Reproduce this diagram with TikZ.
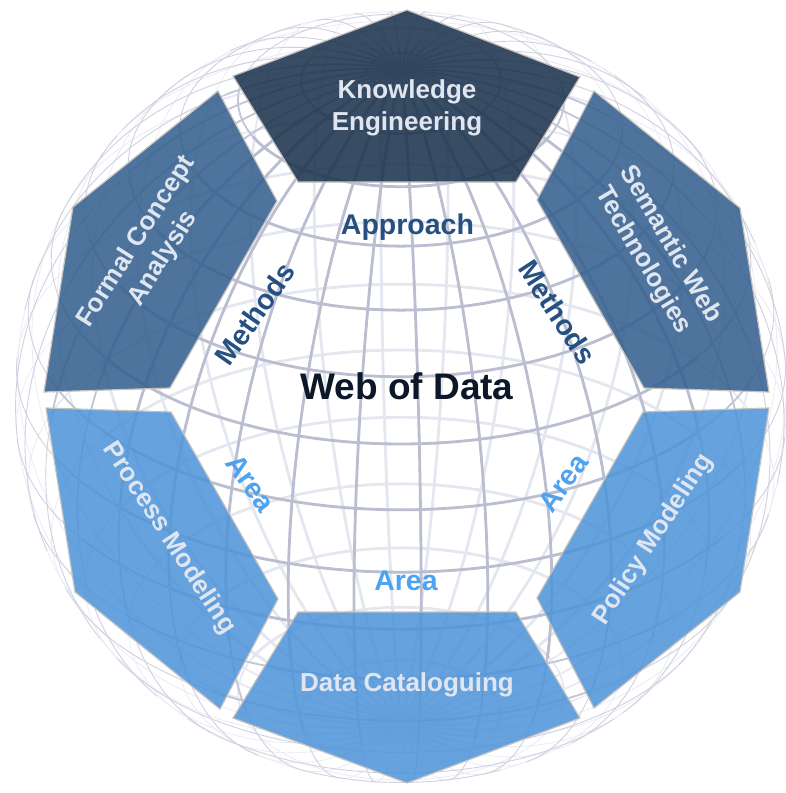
\documentclass[tikz,border=0pt]{standalone}
\usepackage{fontspec}
\setmainfont{Liberation Sans}
\definecolor{frontline}{RGB}{186,190,208}
\definecolor{backline}{RGB}{229,231,240}
\definecolor{pdark}{RGB}{29,52,78}
\definecolor{pmid}{RGB}{54,96,142}
\definecolor{plight}{RGB}{80,149,217}
\definecolor{ptext}{RGB}{224,230,240}
\definecolor{methodc}{RGB}{38,80,128}
\definecolor{areac}{RGB}{78,163,240}
\definecolor{titlec}{RGB}{12,24,40}
\definecolor{panelborder}{RGB}{196,194,192}
\def\gcx{401}
\def\gcy{397}
\def\gR{386}
\def\gtv{32}
\newcommand\gridlines[1]{%
 \foreach \k in {0,...,35}{%
   \pgfmathsetmacro\lam{3+10*\k}%
   \pgfmathsetmacro\ps{atan(-cot(\gtv)*cos(\lam))}%
   \ifnum#1=1
     \draw plot[domain=\ps:90,samples=40,variable=\t]({\gcx+\gR*cos(\t)*sin(\lam)},{\gcy-\gR*(sin(\t)*cos(\gtv)-cos(\t)*sin(\gtv)*cos(\lam))});%
   \else
     \draw plot[domain=-90:\ps,samples=40,variable=\t]({\gcx+\gR*cos(\t)*sin(\lam)},{\gcy-\gR*(sin(\t)*cos(\gtv)-cos(\t)*sin(\gtv)*cos(\lam))});%
   \fi
 }%
 \foreach \p in {-85,-75,...,85}{%
   \pgfmathsetmacro\cc{-tan(\p)*tan(\gtv)}%
   \pgfmathsetmacro\aa{acos(max(-1,min(1,\cc)))}%
   \pgfmathsetmacro\bb{360-\aa}%
   \pgfmathsetmacro\na{-\aa}%
   \ifnum#1=1
     \ifdim\aa pt>0.5pt
       \draw plot[domain=\na:\aa,samples=73,variable=\t]({\gcx+\gR*cos(\p)*sin(\t)},{\gcy-\gR*(sin(\p)*cos(\gtv)-cos(\p)*sin(\gtv)*cos(\t))});%
     \fi
   \else
     \ifdim\aa pt<179.5pt
       \draw plot[domain=\aa:\bb,samples=73,variable=\t]({\gcx+\gR*cos(\p)*sin(\t)},{\gcy-\gR*(sin(\p)*cos(\gtv)-cos(\p)*sin(\gtv)*cos(\t))});%
     \fi
   \fi
 }}
\tikzset{
 paneltext/.style={text=ptext, font=\fontsize{26}{31.5}\selectfont\bfseries, align=center, inner sep=0pt},
 lbl/.style={font=\fontsize{28.5}{30}\selectfont\bfseries, inner sep=0pt},
 panel/.style={draw=panelborder, line width=1.2pt, fill opacity=0.88, line join=miter},
}
\begin{document}
\begin{tikzpicture}[x=1pt,y=-1pt]
\useasboundingbox (0,0) rectangle (786,793);
% back side of the globe
\begin{scope}[draw=backline!75!white, line width=0.9pt] \gridlines{0} \end{scope}
\begin{scope}
 \clip (\gcx,\gcy) circle [radius=350pt];
 \begin{scope}[draw=backline!90!white, line width=1.8pt] \gridlines{0} \end{scope}
\end{scope}
\begin{scope}
 \clip (\gcx,\gcy) circle [radius=300pt];
 \begin{scope}[draw=backline, line width=2.8pt] \gridlines{0} \end{scope}
\end{scope}
% front side of the globe
\begin{scope}[draw=frontline!70!white, line width=0.9pt] \gridlines{1} \end{scope}
\begin{scope}
 \clip (\gcx,\gcy) circle [radius=350pt];
 \begin{scope}[draw=frontline!88!white, line width=1.8pt] \gridlines{1} \end{scope}
\end{scope}
\begin{scope}
 \clip (\gcx,\gcy) circle [radius=300pt];
 \begin{scope}[draw=frontline, line width=2.8pt] \gridlines{1} \end{scope}
\end{scope}
% panels
\path[panel, fill=pdark]  (407,10) -- (580,77) -- (516,182) -- (298,182) -- (233,76) -- cycle;
\path[panel, fill=pmid]   (218,91) -- (277,201) -- (170,388) -- (44,392) -- (73,207) -- cycle;
\path[panel, fill=pmid]   (594,91) -- (740,208) -- (769,392) -- (644,388) -- (537,200) -- cycle;
\path[panel, fill=plight] (46,408) -- (171,412) -- (278,599) -- (220,709) -- (75,592) -- cycle;
\path[panel, fill=plight] (298,612) -- (516,612) -- (580,718) -- (407,783) -- (233,718) -- cycle;
\path[panel, fill=plight] (643,412) -- (769,408) -- (740,592) -- (594,708) -- (537,598) -- cycle;
% panel texts
\node[paneltext] (ke) at (407,108) {Knowledge\\Engineering};
\node[paneltext, rotate=57.5] (fca) at (150,250) {Formal Concept\\Analysis};
\node[paneltext, rotate=-59.5] (swt) at (656.5,252.5) {Semantic Web\\Technologies};
\node[paneltext, rotate=-57] (pm) at (169,538.5) {Process Modeling};
\node[paneltext, rotate=57] (pol) at (653.5,539.5) {Policy Modeling};
\node[paneltext, anchor=base] (dc) at (407,691) {Data Cataloguing};
% labels
\node[lbl, text=methodc, anchor=base] (appr) at (407.5,234) {Approach};
\node[lbl, text=methodc, rotate=55] (ml) at (255,314) {Methods};
\node[lbl, text=methodc, rotate=-57] (mr) at (557.5,312) {Methods};
\node[lbl, text=areac, rotate=-54] (al) at (250.5,483) {Area};
\node[lbl, text=areac, rotate=54] (ar) at (563,483) {Area};
\node[lbl, text=areac, anchor=base] (ab) at (406,590.5) {Area};
\node[lbl, text=titlec, font=\fontsize{37}{40}\selectfont\bfseries, anchor=base] (wod) at (407,399) {Web of Data};
\end{tikzpicture}
\end{document}
